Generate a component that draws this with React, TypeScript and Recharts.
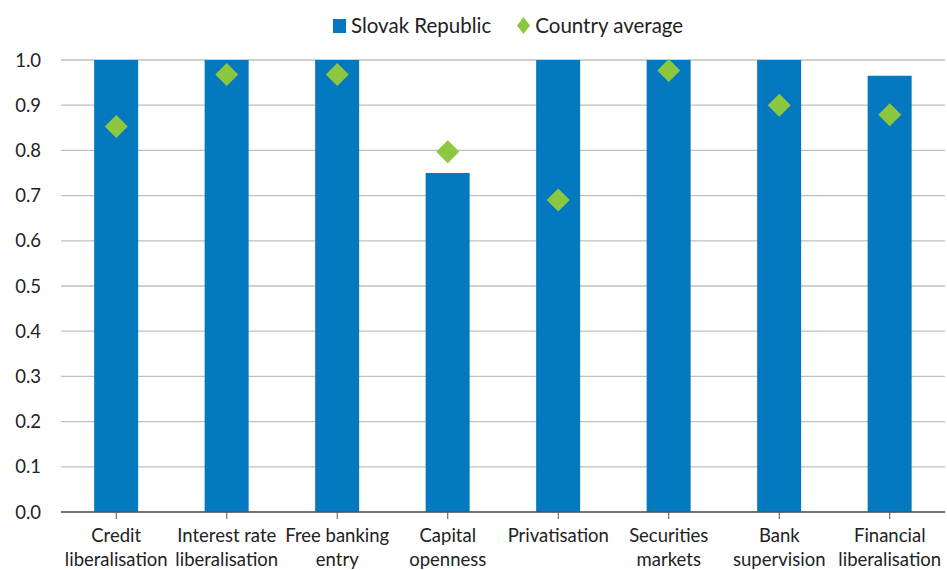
import React from 'react';
import { ComposedChart, Bar, Line, XAxis, YAxis, CartesianGrid } from 'recharts';

const categories = [
  'Credit liberalisation',
  'Interest rate liberalisation',
  'Free banking entry',
  'Capital openness',
  'Privatisation',
  'Securities markets',
  'Bank supervision',
  'Financial liberalisation',
];
const tickLine1 = ['Credit', 'Interest rate', 'Free banking', 'Capital', 'Privatisation', 'Securities', 'Bank', 'Financial'];
const tickLine2 = ['liberalisation', 'liberalisation', 'entry', 'openness', '', 'markets', 'supervision', 'liberalisation'];
const slovakRepublic = [1.0, 1.0, 1.0, 0.75, 1.0, 1.0, 1.0, 0.965];
const countryAverage = [0.853, 0.968, 0.968, 0.797, 0.69, 0.977, 0.9, 0.879];
const yTicks = [0, 0.1, 0.2, 0.3, 0.4, 0.5, 0.6, 0.7, 0.8, 0.9, 1.0];
const seriesNames = ['Slovak Republic', 'Country average'];

const data = categories.map((c, i) => ({
  name: c,
  sk: slovakRepublic[i],
  avg: countryAverage[i],
}));

const BLUE = '#0579BF';
const GREEN = '#8DC63F';
const FONT = 'Lato, "Open Sans", sans-serif';

const Diamond = (props: any) => {
  const { cx, cy } = props;
  if (cx == null || cy == null) return null;
  const r = 11.5;
  return <polygon points={`${cx},${cy - r} ${cx + r},${cy} ${cx},${cy + r} ${cx - r},${cy}`} fill={GREEN} />;
};

const XTick = (props: any) => {
  const { x, y, index } = props;
  return (
    <g>
      <text x={x} y={y + 21} textAnchor="middle" fontSize={18.5} fill="#222" fontFamily={FONT}>
        {tickLine1[index]}
      </text>
      <text x={x} y={y + 45} textAnchor="middle" fontSize={18.5} fill="#222" fontFamily={FONT}>
        {tickLine2[index]}
      </text>
    </g>
  );
};

const YTick = (props: any) => {
  const { y, payload } = props;
  return (
    <text x={41} y={y + 6.5} textAnchor="end" fontSize={18.5} fill="#222" fontFamily={FONT}>
      {Number(payload.value).toFixed(1)}
    </text>
  );
};

const LegendBox = () => (
  <div
    style={{
      position: 'absolute',
      top: 12,
      left: 331,
      display: 'flex',
      alignItems: 'center',
      whiteSpace: 'nowrap',
      fontFamily: FONT,
      fontSize: 20.5,
      color: '#222',
      lineHeight: '26px',
    }}
  >
    <svg width={17} height={17} style={{ marginRight: 3 }}>
      <rect x={2} y={2} width={13} height={14} fill={BLUE} />
    </svg>
    <span style={{ marginRight: 24 }}>{seriesNames[0]}</span>
    <svg width={17} height={19} style={{ marginRight: 3 }}>
      <polygon points="8.5,1 15,9.5 8.5,18 2,9.5" fill={GREEN} />
    </svg>
    <span>{seriesNames[1]}</span>
  </div>
);

export default function App() {
  return (
    <div style={{ position: 'absolute', left: 0, top: 0, width: 947, height: 570, background: '#fff' }}>
      <ComposedChart
        width={947}
        height={570}
        data={data}
        margin={{ top: 60, right: 2, bottom: 0, left: 0 }}
        barCategoryGap="30%"
      >
        <CartesianGrid vertical={false} stroke="#BFBFBF" strokeWidth={1.3} />
        <XAxis
          dataKey="name"
          height={58}
          tick={<XTick />}
          interval={0}
          tickLine={{ stroke: '#555' }}
          axisLine={{ stroke: '#555', strokeWidth: 1.3 }}
          tickSize={7}
        />
        <YAxis
          width={61}
          domain={[0, 1]}
          ticks={yTicks}
          axisLine={false}
          tickLine={false}
          tick={<YTick />}
          interval={0}
        />
        <Bar dataKey="sk" name={seriesNames[0]} fill={BLUE} isAnimationActive={false} />
        <Line
          dataKey="avg"
          name={seriesNames[1]}
          stroke="none"
          dot={<Diamond />}
          activeDot={false}
          isAnimationActive={false}
        />
      </ComposedChart>
      <LegendBox />
    </div>
  );
}
